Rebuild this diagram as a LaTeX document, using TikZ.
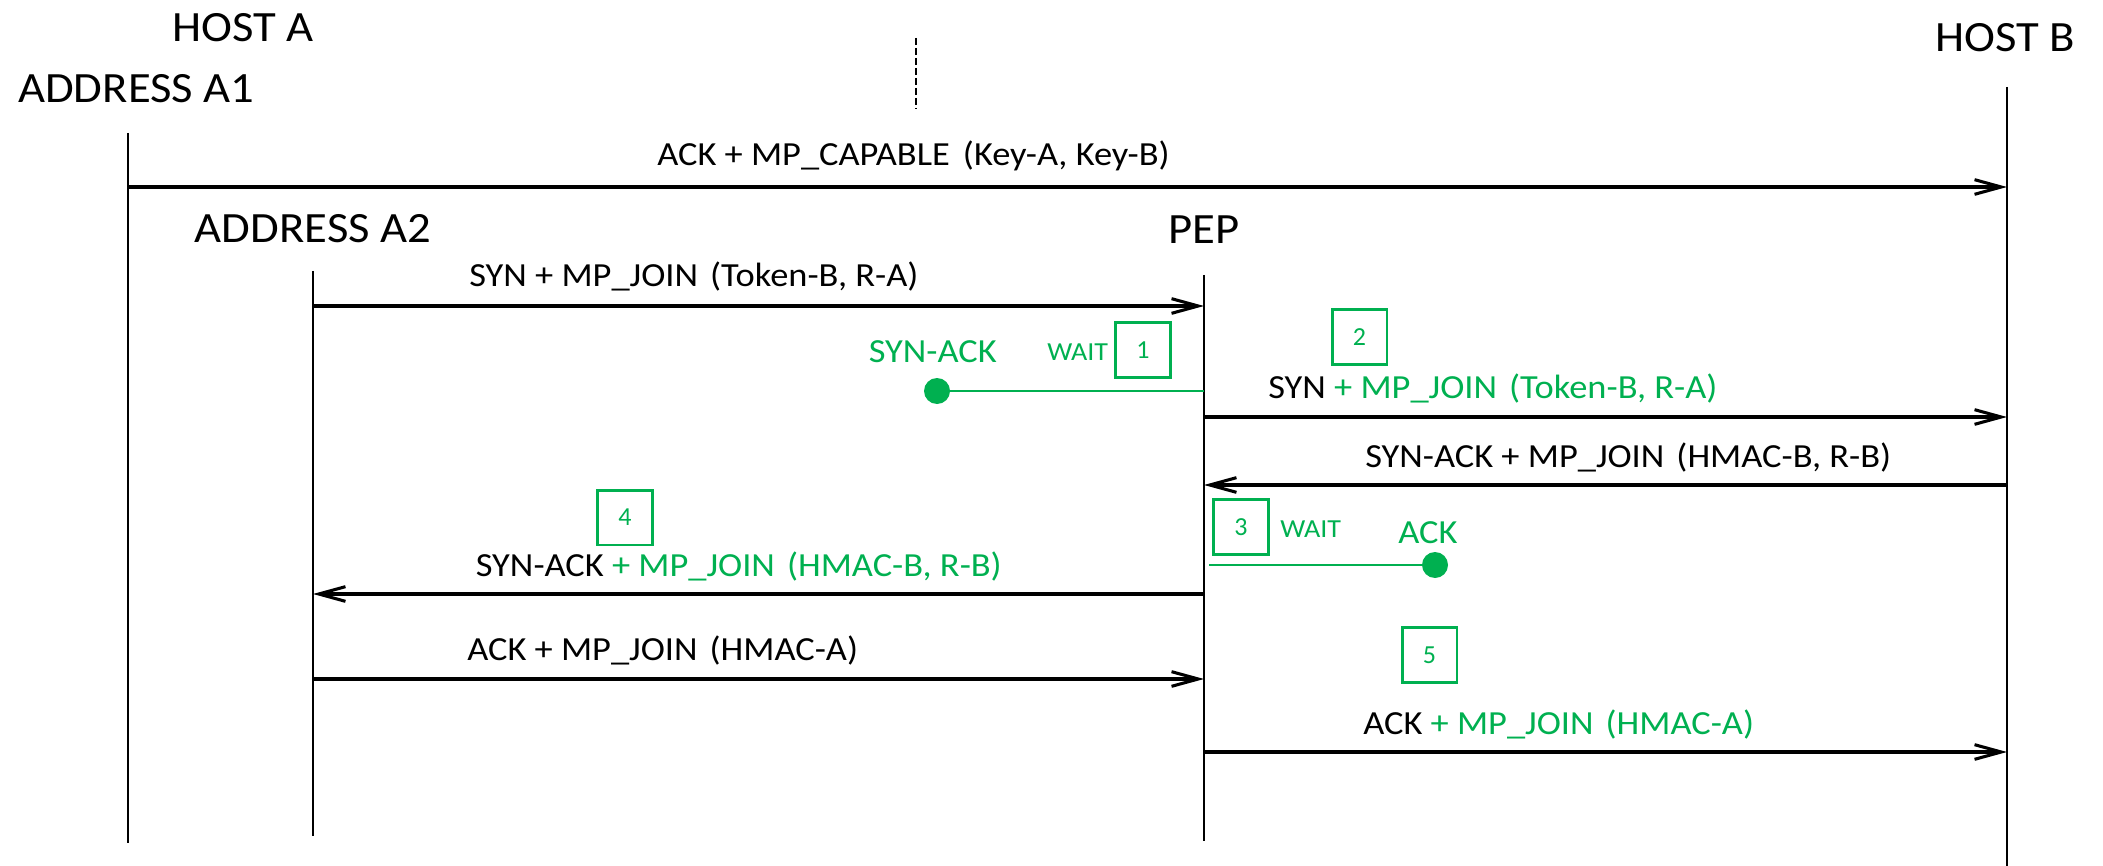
\documentclass[tikz,border=0pt]{standalone}
\usepackage{fontspec}
\setmainfont{Carlito}
\usepackage{graphicx}
\usetikzlibrary{arrows.meta}
\definecolor{okgreen}{RGB}{0,176,80}
% slightly widened lettering
\newcommand{\wtext}[1]{\scalebox{1.08}[1]{#1}}
\newcommand{\gr}[1]{\textcolor{okgreen}{#1}}

\begin{document}
\begin{tikzpicture}[x=0.75pt,y=-0.75pt,
  lifeline/.style={line width=1pt},
  msg/.style={line width=2.3pt,-{Straight Barb[length=20pt,width=11pt]}},
  bigtxt/.style={inner sep=0pt,font=\fontsize{32.4}{36}\selectfont},
  msgtxt/.style={inner sep=0pt,font=\fontsize{25.3}{30}\selectfont},
  smalltxt/.style={inner sep=0pt,text=okgreen,font=\fontsize{19.5}{22}\selectfont},
  numbox/.style={draw=okgreen,line width=2pt,minimum width=41pt,minimum height=41pt,
    inner sep=0pt,text=okgreen,font=\fontsize{19.5}{22}\selectfont},
  dot/.style={circle,fill=okgreen,minimum size=19.5pt,inner sep=0pt},
  waitline/.style={draw=okgreen,line width=2pt}]

\useasboundingbox (0,0) rectangle (2103,866);

% lifelines
\coordinate (A1t) at (128,133);  \coordinate (A1b) at (128,843);
\coordinate (A2t) at (313,271);  \coordinate (A2b) at (313,836);
\coordinate (Pt)  at (1204,275); \coordinate (Pb)  at (1204,841);
\coordinate (Bt)  at (2007,87);  \coordinate (Bb)  at (2007,866);
\draw[lifeline] (A1t) -- (A1b);
\draw[lifeline] (A2t) -- (A2b);
\draw[lifeline] (Pt) -- (Pb);
\draw[lifeline] (Bt) -- (Bb);

% short dashed marker
\coordinate (dt) at (916,38); \coordinate (db) at (916,109);
\draw[line width=0.8pt,dash pattern=on 5pt off 2.5pt] (dt) -- (db);

% headings
\node[bigtxt,anchor=base] (hostA) at (243,42) {\wtext{HOST A}};
\node[bigtxt,anchor=base west] (addrA1) at (18,103) {\wtext{ADDRESS A1}};
\node[bigtxt,anchor=base] (addrA2) at (313,243) {\wtext{ADDRESS A2}};
\node[bigtxt,anchor=base] (pep) at (1204,244) {\wtext{PEP}};
\node[bigtxt,anchor=base] (hostB) at (2005,52) {\wtext{HOST B}};

% message levels
\coordinate (y1) at (0,187);
\coordinate (y2) at (0,306);
\coordinate (y3) at (0,391);
\coordinate (y4) at (0,417);
\coordinate (y5) at (0,485);
\coordinate (y6) at (0,565);
\coordinate (y7) at (0,594);
\coordinate (y8) at (0,679);
\coordinate (y9) at (0,752);

% messages
\draw[msg] (A1t |- y1) -- (Bt |- y1);
\node[msgtxt,anchor=base west] (t1) at (657,166)
  {\wtext{ACK + MP\_CAPABLE\hspace{0.36em}(Key-A, Key-B)}};

\draw[msg] (A2t |- y2) -- (Pt |- y2);
\node[msgtxt,anchor=base west] (t2) at (469,287)
  {\wtext{SYN + MP\_JOIN\hspace{0.33em}(Token-B, R-A)}};

\draw[msg] (Pt |- y4) -- (Bt |- y4);
\node[msgtxt,anchor=base west] (t4) at (1268,398)
  {\wtext{SYN \gr{+ MP\_JOIN\hspace{0.33em}(Token-B, R-A)}}};

\draw[msg] (Bt |- y5) -- (Pt |- y5);
\node[msgtxt,anchor=base west] (t5) at (1365,467)
  {\wtext{SYN-ACK + MP\_JOIN\hspace{0.33em}(HMAC-B, R-B)}};

\draw[msg] (Pt |- y7) -- (A2t |- y7);
\node[msgtxt,anchor=base east] (t7) at (1002,576)
  {\wtext{SYN-ACK \gr{+ MP\_JOIN\hspace{0.33em}(HMAC-B, R-B)}}};

\draw[msg] (A2t |- y8) -- (Pt |- y8);
\node[msgtxt,anchor=base west] (t8) at (467,660)
  {\wtext{ACK + MP\_JOIN\hspace{0.33em}(HMAC-A)}};

\draw[msg] (Pt |- y9) -- (Bt |- y9);
\node[msgtxt,anchor=base west] (t9) at (1363,734)
  {\wtext{ACK \gr{+ MP\_JOIN\hspace{0.33em}(HMAC-A)}}};

% held SYN-ACK
\node[dot] (d1) at (937,391) {};
\draw[waitline] (Pt |- y3) -- (d1.center);
\node[msgtxt,text=okgreen,anchor=base east] (sa) at (997,363) {\wtext{SYN-ACK}};
\node[smalltxt,anchor=base west] (w1) at (1047,360) {\wtext{WAIT}};
\node[numbox] (b1) at (1143,350) {1};

% held ACK
\node[dot] (d2) at (1435,565) {};
\coordinate (g2) at (1209,565);
\draw[waitline] (g2) -- (d2.center);
\node[msgtxt,text=okgreen,anchor=base west] (ak) at (1398,543) {\wtext{ACK}};
\node[smalltxt,anchor=base west] (w3) at (1280,537) {\wtext{WAIT}};
\node[numbox] (b3) at (1241,527) {3};

% step numbers
\node[numbox] (b2) at (1359.5,337) {2};
\node[numbox] (b4) at (625,517.5) {4};
\node[numbox] (b5) at (1429.5,655) {5};

\end{tikzpicture}
\end{document}
